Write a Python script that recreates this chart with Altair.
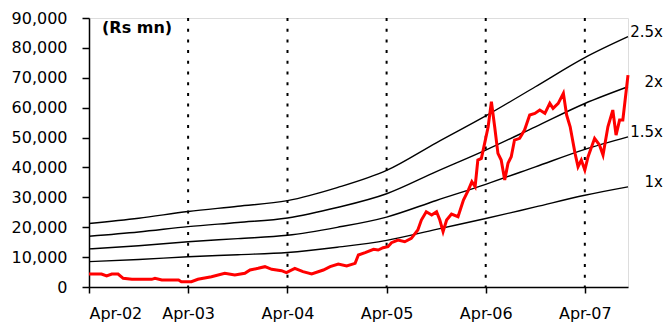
import altair as alt
import pandas as pd

# Market cap (Rs mn)
mcap_dates = [
    "2002-04-01", "2002-05-17", "2002-06-05", "2002-06-24", "2002-07-17", "2002-08-05",
    "2002-09-06", "2002-11-18", "2002-11-30", "2002-12-25", "2003-02-25", "2003-03-07",
    "2003-04-13", "2003-05-07", "2003-06-26", "2003-08-14", "2003-09-20", "2003-10-27",
    "2003-11-15", "2003-12-15", "2004-01-09", "2004-02-03", "2004-03-10", "2004-03-28",
    "2004-04-28", "2004-05-28", "2004-06-29", "2004-08-11", "2004-09-05", "2004-10-05",
    "2004-11-05", "2004-12-06", "2004-12-18", "2005-01-12", "2005-02-12", "2005-03-01",
    "2005-03-19", "2005-04-06", "2005-04-19", "2005-05-13", "2005-06-07", "2005-07-01",
    "2005-07-25", "2005-08-07", "2005-08-25", "2005-09-14", "2005-10-02", "2005-10-14",
    "2005-10-26", "2005-11-08", "2005-11-26", "2005-12-20", "2006-01-09", "2006-01-27",
    "2006-02-09", "2006-02-21", "2006-03-03", "2006-03-16", "2006-03-28", "2006-04-10",
    "2006-04-22", "2006-05-04", "2006-05-16", "2006-05-28", "2006-06-10", "2006-06-22",
    "2006-07-04", "2006-07-16", "2006-08-04", "2006-08-22", "2006-09-10", "2006-09-29",
    "2006-10-17", "2006-11-05", "2006-11-23", "2006-12-05", "2006-12-24", "2007-01-12",
    "2007-01-24", "2007-02-06", "2007-02-24", "2007-03-07", "2007-03-19", "2007-04-01",
    "2007-04-13", "2007-05-07", "2007-05-25", "2007-06-07", "2007-06-25", "2007-07-13",
    "2007-07-25", "2007-08-07", "2007-08-19", "2007-09-07",
]
mcap_values = [
    4350, 4350, 3680, 4350, 4350, 2900,
    2570, 2570, 2900, 2340, 2340, 1780,
    1780, 2570, 3450, 4570, 4010, 4570,
    5690, 6250, 6800, 5920, 5450, 4800,
    6250, 5120, 4350, 5690, 6800, 7690,
    7020, 7920, 10700, 11470, 12600, 12370,
    13140, 13500, 14820, 15720, 15150, 16280,
    19060, 22400, 25190, 24080, 25190, 22400,
    18500, 22400, 24400, 23510, 29100, 32440,
    35220, 33550, 42470, 43040, 48060, 53610,
    61970, 53610, 44710, 42470, 35790, 41370,
    43580, 49160, 49730, 52510, 57530, 58090,
    59200, 58090, 61440, 59770, 61440, 64780,
    57530, 53610, 44710, 40230, 42470, 39130,
    43580, 49730, 47490, 44150, 53610, 59200,
    50840, 55860, 55860, 70900,
]

# P/BV band lines
band_dates = [
    "2002-04-01", "2002-10-01", "2003-04-01", "2003-10-01", "2004-04-01", "2004-10-01",
    "2005-04-01", "2005-10-01", "2006-04-01", "2006-10-01", "2007-04-01", "2007-09-07",
]
band_1x = [8500, 9200, 10100, 10800, 11550, 13300, 15600, 19300, 22900, 26800, 30700, 33500]
band_15x = [12750, 13800, 15150, 16200, 17300, 19950, 23400, 28950, 34350, 40200, 46050, 50250]
band_2x = [17000, 18400, 20200, 21600, 23100, 26600, 31200, 38600, 45800, 53600, 61400, 67000]
band_25x = [21250, 23000, 25250, 27000, 28900, 33250, 39000, 48250, 57250, 67000, 76750, 83750]
band_labels = ["1x", "1.5x", "2x", "2.5x"]

year_marks = ["2003-04-01", "2004-04-01", "2005-04-01", "2006-04-01", "2007-04-01"]
tick_years = [2002, 2003, 2004, 2005, 2006, 2007]
y_ticks = [0, 10000, 20000, 30000, 40000, 50000, 60000, 70000, 80000, 90000]
unit_label = "(Rs mn)"

FONT = "DejaVu Sans"

mcap_df = pd.DataFrame({"date": mcap_dates, "value": mcap_values})
band_series = [band_1x, band_15x, band_2x, band_25x]
band_rows = []
for lab, vals in zip(band_labels, band_series):
    for d, v in zip(band_dates, vals):
        band_rows.append({"date": d, "value": v, "band": lab})
band_df = pd.DataFrame(band_rows)
end_df = pd.DataFrame({
    "date": [band_dates[-1]] * 4,
    "value": [s[-1] for s in band_series],
    "band": band_labels,
})
marks_df = pd.DataFrame({"date": year_marks})

x_scale = alt.Scale(
    type="utc",
    domain=[alt.DateTime(year=2002, month=4, date=1, utc=True),
            alt.DateTime(year=2007, month=9, date=7, utc=True)],
    nice=False,
)
y_scale = alt.Scale(domain=[0, 90000], nice=False)

x_axis = alt.Axis(
    values=[alt.DateTime(year=y, month=4, date=1, utc=True) for y in tick_years],
    labelExpr="utcFormat(datum.value, '%b-%y')", title=None, grid=False,
    labelFont=FONT, labelFontSize=16, labelColor="black",
    domainColor="black", domainWidth=1.5, tickColor="black", tickWidth=1.5,
    tickSize=6, labelPadding=12,
)
y_axis = alt.Axis(
    values=y_ticks, format=",.0f", title=None, grid=False,
    labelFont=FONT, labelFontSize=16, labelColor="black",
    domainColor="black", domainWidth=1.5, tickColor="black", tickWidth=1.5,
    tickSize=7, labelPadding=15,
)

rules = alt.Chart(marks_df).mark_rule(
    color="black", strokeWidth=2, strokeDash=[3, 7.7]
).encode(x=alt.X("date:T", scale=x_scale, axis=x_axis))

bands = alt.Chart(band_df).mark_line(
    color="black", strokeWidth=1.4, interpolate="monotone"
).encode(
    x=alt.X("date:T", scale=x_scale, axis=x_axis),
    y=alt.Y("value:Q", scale=y_scale, axis=y_axis),
    detail="band:N",
)

mcap = alt.Chart(mcap_df).mark_line(color="#ff0000", strokeWidth=3).encode(
    x=alt.X("date:T", scale=x_scale, axis=x_axis),
    y=alt.Y("value:Q", scale=y_scale, axis=y_axis),
)

end_labels = alt.Chart(end_df).mark_text(
    align="right", baseline="middle", dx=35, dy=-5,
    font=FONT, fontSize=15, color="black",
).encode(
    x=alt.X("date:T", scale=x_scale, axis=x_axis),
    y=alt.Y("value:Q", scale=y_scale, axis=y_axis),
    text="band:N",
)

unit = alt.Chart(pd.DataFrame({"t": [unit_label]})).mark_text(
    align="left", baseline="middle", font=FONT, fontSize=16,
    fontWeight="bold", color="black",
).encode(x=alt.value(13), y=alt.value(10), text="t:N")

chart = alt.layer(rules, bands, mcap, end_labels, unit).properties(
    width=539, height=269,
    autosize=alt.AutoSizeParams(type="none"),
    padding={"left": 81, "top": 10, "right": 36, "bottom": 36},
).configure_view(stroke=None).configure(background="white")

chart.save("out.html", embed_options={"renderer": "svg", "actions": False})
